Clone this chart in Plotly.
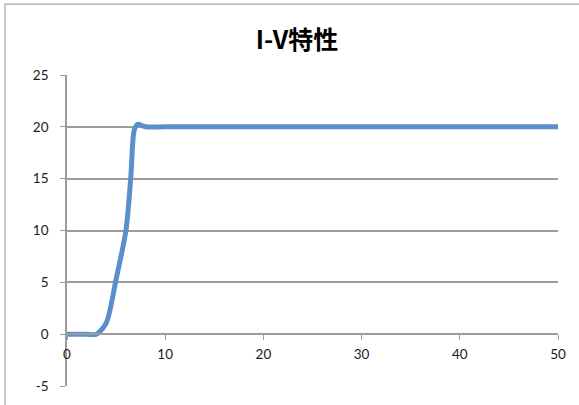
import plotly.graph_objects as go

title_text = "I-V特性"
voltage = [0, 1, 2, 3, 4, 5, 6, 6.5, 6.85, 7.2, 8, 10, 20, 30, 40, 50]
current = [0, 0, 0, 0, 1.1, 5.3, 10, 15.2, 19.7, 20.25, 20, 20, 20, 20, 20, 20]
x_ticks = [0, 10, 20, 30, 40, 50]
y_ticks = [-5, 0, 5, 10, 15, 20, 25]
y_tick_labels = ["-5", "0", "5", "10", "15", "20", "25"]

grid = "#9C9C9C"
label_font = dict(family="Lato, Liberation Sans, sans-serif", size=13.5, color="#1a1a1a")

fig = go.Figure()
fig.add_trace(go.Scatter(
    x=voltage, y=current, mode="lines",
    line=dict(color="#5B8FCB", width=5, shape="spline", smoothing=0.8),
    showlegend=False, hoverinfo="skip",
))

fig.update_layout(
    width=579, height=405,
    margin=dict(l=67, r=21, t=75, b=19),
    paper_bgcolor="white", plot_bgcolor="white",
    title=dict(text="<b>" + title_text + "</b>", x=0.513, xanchor="center",
               y=0.90, yanchor="middle",
               font=dict(family="Noto Sans CJK JP, sans-serif", size=25, color="black")),
    xaxis=dict(range=[0, 50], tickvals=x_ticks, showgrid=False, zeroline=False,
               showline=True, linecolor=grid, linewidth=1.6,
               ticks="outside", ticklen=5, tickcolor=grid, tickwidth=1.3,
               anchor="free", position=1/6, ticklabelstandoff=3,
               tickfont=label_font),
    yaxis=dict(range=[-5, 25], tickvals=y_ticks, ticktext=y_tick_labels,
               showgrid=True, gridcolor=grid,
               gridwidth=1.6, zeroline=False, showline=True, linecolor=grid,
               linewidth=1.6, ticks="outside", ticklen=5, tickcolor=grid, tickwidth=1.3,
               ticklabelstandoff=9,
               tickfont=label_font),
    shapes=[
        dict(type="rect", xref="paper", yref="paper",
             x0=-0.1263, x1=1.3, y0=-0.3, y1=1.228,
             line=dict(color="#A6A6A6", width=1.2), fillcolor="rgba(0,0,0,0)",
             layer="below"),
    ],
)

fig.write_html("out.html", config={"displayModeBar": False},
               post_script="document.body.style.margin='0';")
